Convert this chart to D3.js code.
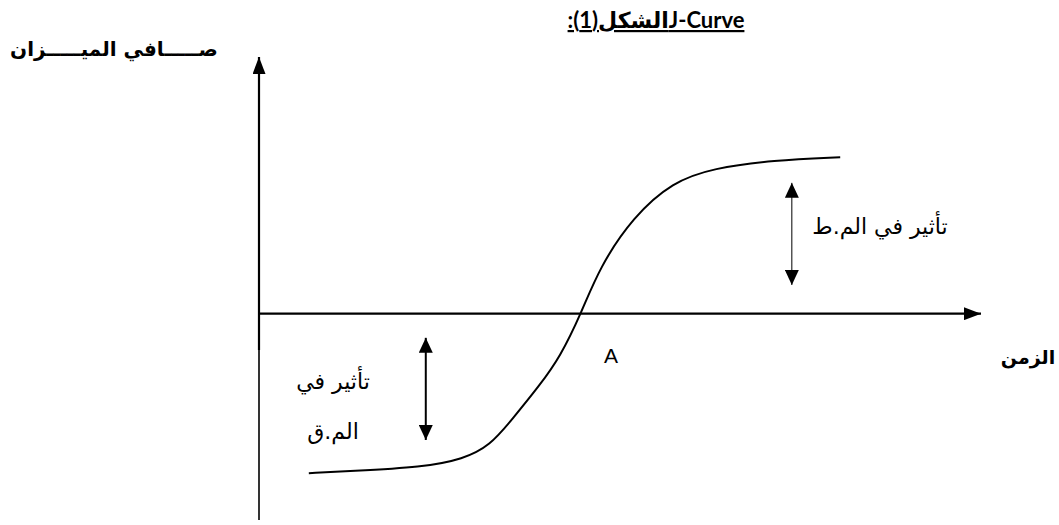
<!DOCTYPE html>
<html>
<head>
<meta charset="utf-8">
<script src="https://cdn.jsdelivr.net/npm/d3@7"></script>
<style>
  body { margin: 0; background: #fff; }
  text { fill: #000; }
</style>
</head>
<body>
<div id="chart"></div>
<script>
var canvasWidth = 1059;
var canvasHeight = 525;

/*Curve points: time vs net balance*/
var curveTime  = [6.9, 12.6, 22.7, 28.3, 32.0, 35.0, 38.9, 41.7, 44.6, 47.2, 51.8, 57.3, 62.9, 71.2, 80.5];
var curveValue = [-31.7, -31.3, -30.5, -28.9, -26.2, -21.1, -14.2, -8.6, 0, 9.3, 19.2, 26.2, 28.9, 30.5, 31.1];

/*Double arrows: time, value from, value to*/
var arrowTime = [23.1, 73.8];
var arrowFrom = [-4.8, 5.7];
var arrowTo   = [-25.1, 26.0];
var arrowWidth = [2, 1];

/*Texts*/
var titleText = "J-Curveالشكل(1):";
var yLabel = "صـــــافي الميـــــزان";
var xLabel = "الزمن";
var shortTermLines = ["تأثير في", "الم.ق"];
var longTermText = "تأثير في الم.ط";
var pointLabel = "A";

var svg = d3.select("#chart").append("svg")
    .attr("width", canvasWidth)
    .attr("height", canvasHeight);

/*Scales*/
var xScale = d3.scaleLinear().domain([0, 100]).range([259, 981]);
var yScale = d3.scaleLinear().domain([-41, 51]).range([520, 57]);

/*Arrow heads*/
var defs = svg.append("defs");
function addHead(id, w, h) {
    defs.append("marker")
        .attr("id", id)
        .attr("markerUnits", "userSpaceOnUse")
        .attr("viewBox", "0 0 " + h + " " + w)
        .attr("refX", h)
        .attr("refY", w / 2)
        .attr("markerWidth", h)
        .attr("markerHeight", w)
        .attr("orient", "auto-start-reverse")
        .append("path")
        .attr("d", "M0,0L" + h + "," + (w / 2) + "L0," + w + "Z")
        .attr("fill", "#000");
}
addHead("axisHead", 13, 17);
addHead("dblHead", 14, 15);

/*Y axis (lower part a little thinner, as in the scan)*/
svg.append("line")
    .attr("x1", xScale(0)).attr("x2", xScale(0))
    .attr("y1", yScale(-7.2)).attr("y2", yScale(51))
    .attr("stroke", "#000").attr("stroke-width", 2.2)
    .attr("marker-end", "url(#axisHead)");
svg.append("line")
    .attr("x1", xScale(0)).attr("x2", xScale(0))
    .attr("y1", yScale(-41)).attr("y2", yScale(-7.2))
    .attr("stroke", "#000").attr("stroke-width", 1.6);

/*X axis*/
svg.append("line")
    .attr("x1", xScale(0) - 1).attr("x2", xScale(100))
    .attr("y1", yScale(0)).attr("y2", yScale(0))
    .attr("stroke", "#000").attr("stroke-width", 2.2)
    .attr("marker-end", "url(#axisHead)");

/*J curve*/
var points = curveTime.map(function (t, i) { return [t, curveValue[i]]; });
svg.append("path")
    .attr("fill", "none")
    .attr("stroke", "#000")
    .attr("stroke-width", 2)
    .attr("d", d3.line()
        .x(function (d) { return xScale(d[0]); })
        .y(function (d) { return yScale(d[1]); })
        .curve(d3.curveBasis)(points));

/*Double arrows*/
arrowTime.forEach(function (t, i) {
    svg.append("line")
        .attr("x1", xScale(t)).attr("x2", xScale(t))
        .attr("y1", yScale(arrowFrom[i])).attr("y2", yScale(arrowTo[i]))
        .attr("stroke", "#000").attr("stroke-width", arrowWidth[i])
        .attr("marker-start", "url(#dblHead)")
        .attr("marker-end", "url(#dblHead)");
});

/*Title*/
svg.append("text")
    .attr("x", 656).attr("y", 28)
    .attr("text-anchor", "middle")
    .attr("direction", "rtl")
    .style("font-family", "Lato, 'DejaVu Sans', sans-serif")
    .style("font-weight", "bold")
    .style("font-size", "22px")
    .style("text-decoration", "underline")
    .text(titleText);

/*Axis labels*/
svg.append("text")
    .attr("x", 114).attr("y", 56)
    .attr("text-anchor", "middle")
    .attr("direction", "rtl")
    .style("font-family", "'DejaVu Sans', sans-serif")
    .style("font-weight", "bold")
    .style("font-size", "20px")
    .text(yLabel);

svg.append("text")
    .attr("x", 1028).attr("y", 364)
    .attr("text-anchor", "middle")
    .attr("direction", "rtl")
    .style("font-family", "'DejaVu Sans', sans-serif")
    .style("font-weight", "bold")
    .style("font-size", "19px")
    .text(xLabel);

/*Effect labels*/
svg.selectAll(".st")
    .data(shortTermLines)
    .join("text")
    .attr("x", 333)
    .attr("y", function (d, i) { return 389 + i * 50; })
    .attr("text-anchor", "middle")
    .attr("direction", "rtl")
    .style("font-family", "'DejaVu Sans', sans-serif")
    .style("font-size", "22px")
    .text(function (d) { return d; });

svg.append("text")
    .attr("x", 880).attr("y", 234)
    .attr("text-anchor", "middle")
    .attr("direction", "rtl")
    .style("font-family", "'DejaVu Sans', sans-serif")
    .style("font-size", "22px")
    .text(longTermText);

svg.append("text")
    .attr("x", 611).attr("y", 363)
    .attr("text-anchor", "middle")
    .style("font-family", "'Liberation Sans', Arial, sans-serif")
    .style("font-size", "21px")
    .text(pointLabel);
</script>
</body>
</html>
